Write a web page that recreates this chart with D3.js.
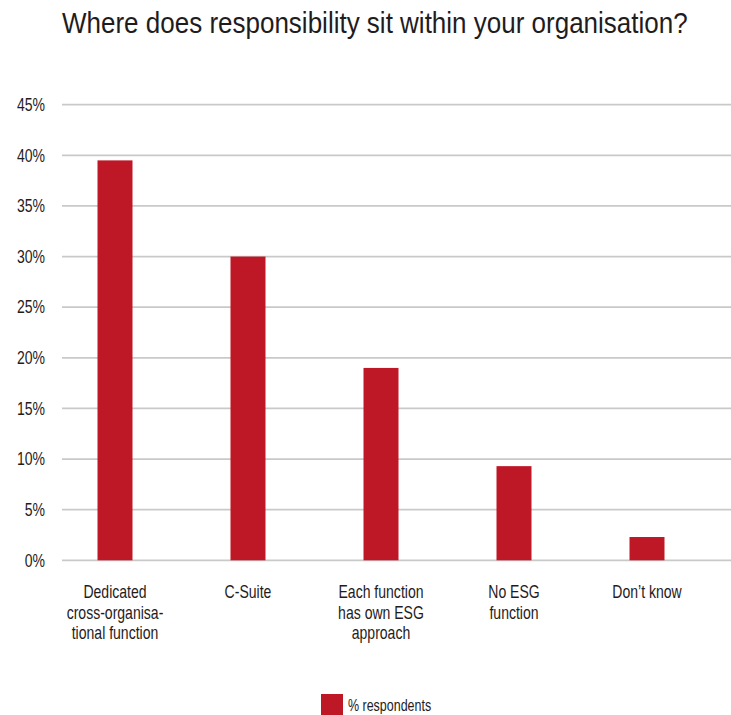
<!DOCTYPE html>
<html>
<head>
<meta charset="utf-8">
<script src="https://cdn.jsdelivr.net/npm/d3@7"></script>
<style>
  html, body { margin: 0; padding: 0; background: #fff; }
  svg { display: block; }
  text { font-family: "Liberation Sans", Arial, sans-serif; fill: #1f1c1d; }
</style>
</head>
<body>
<div id="chart"></div>
<script>
// Survey responses: where ESG responsibility sits
const categories = [
  ["Dedicated", "cross-organisa-", "tional function"],
  ["C-Suite"],
  ["Each function", "has own ESG", "approach"],
  ["No ESG", "function"],
  ["Don\u2019t know"]
];
const values = [39.5, 30, 19, 9.3, 2.3];
const yTicks = [0, 5, 10, 15, 20, 25, 30, 35, 40, 45];
const seriesName = "% respondents";
const title = "Where does responsibility sit within your organisation?";

const W = 731, H = 715;
const barColor = "#be1826";
const gridColor = "#c9c9c9";
const narrow = 0.78; // horizontal squeeze for a condensed look

const svg = d3.select("#chart").append("svg")
  .attr("width", W).attr("height", H);

const keys = categories.map((c, i) => i);

const x = d3.scalePoint()
  .domain(keys)
  .range([115, 647]);

const y = d3.scaleLinear()
  .domain([0, 45])
  .range([560.3, 104.7]);

const barW = 35;

// Title, squeezed horizontally to span 626px
const titleG = svg.append("g");
const titleText = titleG.append("text")
  .attr("x", 0).attr("y", 0)
  .style("font-size", "29px")
  .text(title);
const naturalW = titleText.node().getComputedTextLength();
titleG.attr("transform", `translate(62,33) scale(${626 / naturalW},1)`);

// Horizontal grid lines
svg.append("g")
  .selectAll("line")
  .data(yTicks)
  .join("line")
  .attr("x1", 62).attr("x2", W)
  .attr("y1", d => y(d)).attr("y2", d => y(d))
  .attr("stroke", gridColor)
  .attr("stroke-width", 1.8);

// Y axis labels
const yAxis = d3.axisLeft(y)
  .tickValues(yTicks)
  .tickFormat(d => d + "%")
  .tickSize(0)
  .tickPadding(0);

svg.append("g")
  .attr("transform", "translate(45,0)")
  .call(yAxis)
  .call(g => g.select(".domain").remove())
  .call(g => g.selectAll("text")
    .attr("transform", `scale(${narrow},1)`)
    .style("font-size", "18px")
    .style("font-family", "\"Liberation Sans\", Arial, sans-serif")
    .attr("fill", "#1f1c1d"));

// Bars
svg.append("g")
  .selectAll("rect")
  .data(values)
  .join("rect")
  .attr("x", (d, i) => x(i) - barW / 2)
  .attr("width", barW)
  .attr("y", d => y(d))
  .attr("height", d => y(0) - y(d))
  .attr("fill", barColor);

// Category labels (multi-line)
const labels = svg.append("g")
  .selectAll("g")
  .data(categories)
  .join("g")
  .attr("transform", (d, i) => `translate(${x(i)},0) scale(${narrow},1)`)
  .append("text")
  .attr("text-anchor", "middle")
  .style("font-size", "18px");

labels.each(function(lines) {
  d3.select(this).selectAll("tspan")
    .data(lines)
    .join("tspan")
    .attr("x", 0)
    .attr("y", (d, j) => 598 + j * 20.7)
    .text(d => d);
});

// Legend
const legend = svg.append("g");
legend.append("rect")
  .attr("x", 321).attr("y", 694)
  .attr("width", 22).attr("height", 21)
  .attr("fill", barColor);
legend.append("g")
  .attr("transform", `translate(348,711) scale(${narrow},1)`)
  .append("text")
  .style("font-size", "16px")
  .text(seriesName);
</script>
</body>
</html>
